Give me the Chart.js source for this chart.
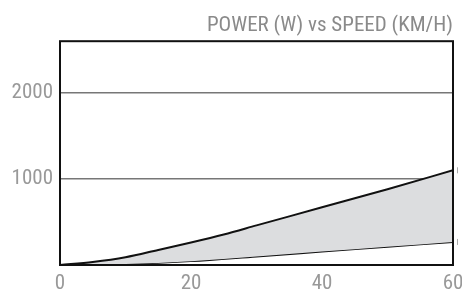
<!DOCTYPE html>
<html>
<head>
<meta charset="utf-8">
<script src="https://cdn.jsdelivr.net/npm/chart.js@4.4.0/dist/chart.umd.min.js"></script>
<style>
  html, body { margin: 0; padding: 0; background: #fff; }
  #wrap { width: 462px; height: 293px; }
</style>
</head>
<body>
<div id="wrap"><canvas id="myChart"></canvas></div>
<script>
// speed (km/h) and power (W)
var speedUpper = [0, 5, 10, 15, 20, 25, 30, 40, 50, 60];
var powerUpper = [0, 35, 90, 175, 262, 355, 460, 670, 880, 1100];
var speedLower = [0, 10, 20, 30, 40, 50, 60];
var powerLower = [0, 12, 45, 100, 156, 212, 268];
var xTicks = [0, 20, 40, 60];
var yTicks = [1000, 2000];

var labelFont = { family: "'Roboto Condensed', 'DejaVu Sans Condensed', sans-serif", size: 21, weight: 400 };

function toPoints(xs, ys) {
    var pts = [];
    for (var i = 0; i < xs.length; i++) {
        pts.push({ x: xs[i], y: ys[i] });
    }
    return pts;
}

// box round the plot + small end marks on the right
var frame = {
    id: 'frame',
    afterDatasetsDraw: function (chart) {
        var ctx = chart.ctx;
        var a = chart.chartArea;
        ctx.save();
        ctx.strokeStyle = '#111';
        ctx.lineWidth = 2;
        ctx.strokeRect(a.left, a.top, a.right - a.left, a.bottom - a.top);
        ctx.strokeStyle = '#aaa';
        ctx.lineWidth = 1;
        chart.data.datasets.forEach(function (ds) {
            var last = ds.data[ds.data.length - 1];
            var y = chart.scales.y.getPixelForValue(last.y);
            ctx.beginPath();
            ctx.moveTo(a.right + 4.5, y - 3);
            ctx.lineTo(a.right + 4.5, y + 3);
            ctx.stroke();
        });
        ctx.restore();
    }
};

var data = {
    datasets: [{
        label: 'upper',
        data: toPoints(speedUpper, powerUpper),
        borderColor: '#111',
        borderWidth: 2,
        backgroundColor: '#dcdddf',
        fill: '+1',
        pointRadius: 0,
        cubicInterpolationMode: 'monotone'
    }, {
        label: 'lower',
        data: toPoints(speedLower, powerLower),
        borderColor: '#111',
        borderWidth: 2,
        fill: false,
        pointRadius: 0,
        cubicInterpolationMode: 'monotone'
    }]
};

var config = {
    type: 'line',
    data: data,
    options: {
        responsive: true,
        maintainAspectRatio: false,
        animation: false,
        layout: { padding: { top: 0, right: 9, bottom: 0, left: 0 } },
        plugins: {
            legend: { display: false },
            tooltip: { enabled: false },
            title: {
                display: true,
                text: 'POWER (W) vs SPEED (KM/H)',
                align: 'end',
                color: '#8a8a8a',
                font: labelFont,
                padding: { top: 13, bottom: 3 }
            }
        },
        scales: {
            x: {
                type: 'linear',
                min: 0,
                max: 60,
                afterFit: function (s) {
                    s.height = 28;
                    s.paddingLeft = 0;
                    s.paddingRight = 0;
                },
                afterBuildTicks: function (s) {
                    s.ticks = xTicks.map(function (v) { return { value: v }; });
                },
                grid: { display: false, drawTicks: false },
                border: { display: false },
                ticks: {
                    color: '#999',
                    padding: 6,
                    maxRotation: 0,
                    font: labelFont,
                    callback: function (v) { return String(v); }
                }
            },
            y: {
                min: 0,
                max: 2600,
                afterFit: function (s) {
                    s.width = 60;
                    s.paddingTop = 0;
                    s.paddingBottom = 0;
                },
                afterBuildTicks: function (s) {
                    s.ticks = yTicks.map(function (v) { return { value: v }; });
                },
                grid: { color: '#777', lineWidth: 1.5, drawTicks: false },
                border: { display: false },
                ticks: {
                    color: '#999',
                    padding: 7,
                    font: labelFont,
                    callback: function (v) { return String(v); }
                }
            }
        }
    },
    plugins: [frame]
};

var ctx = document.getElementById('myChart').getContext('2d');
var myChart = new Chart(ctx, config);
</script>
</body>
</html>
